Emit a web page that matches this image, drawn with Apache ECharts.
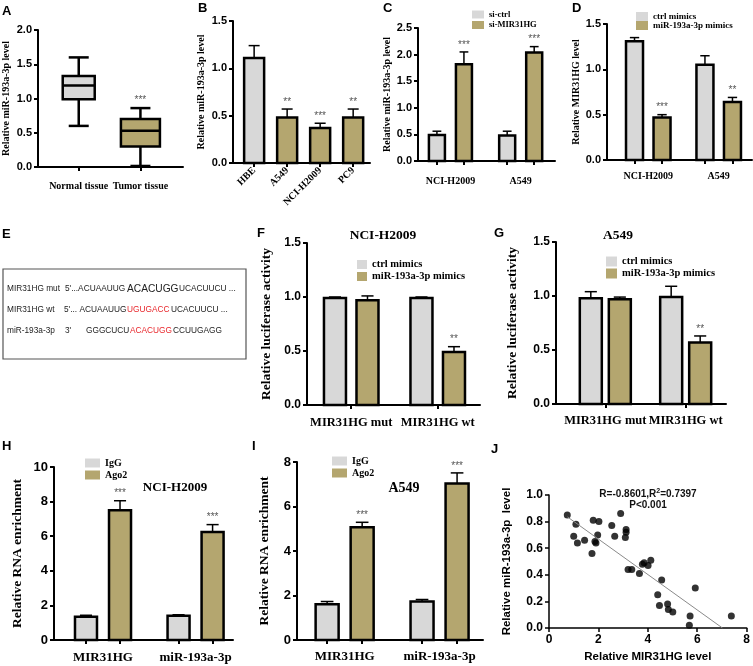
<!DOCTYPE html>
<html><head><meta charset="utf-8">
<script src="https://cdn.jsdelivr.net/npm/echarts@6/dist/echarts.min.js"></script>
<style>html,body{margin:0;padding:0;background:#fff}#c{width:753px;height:666px}</style>
</head><body><div id="c"></div>
<script>
// ---------------- DATA ----------------
// A: box plot [min, Q1, median, Q3, max]
const A_categories = ['Normal tissue', 'Tumor tissue'];
const A_box = [[0.60, 0.99, 1.19, 1.33, 1.60], [0.015, 0.30, 0.53, 0.70, 0.86]];
const A_stars = ['', '***'];
// B
const B_categories = ['HBE', 'A549', 'NCI-H2009', 'PC9'];
const B_mean = [1.11, 0.48, 0.37, 0.48];
const B_sd = [0.13, 0.09, 0.05, 0.09];
const B_stars = ['', '**', '***', '**'];
// C
const C_groups = ['NCI-H2009', 'A549'];
const C_names = ['si-ctrl', 'si-MIR31HG'];
const C_ctrl = [0.49, 0.48], C_ctrl_sd = [0.07, 0.08];
const C_si = [1.82, 2.04], C_si_sd = [0.23, 0.11];
const C_stars = ['***', '***'];
// D
const D_groups = ['NCI-H2009', 'A549'];
const D_names = ['ctrl mimics', 'miR-193a-3p mimics'];
const D_ctrl = [1.31, 1.05], D_ctrl_sd = [0.04, 0.10];
const D_mim = [0.47, 0.64], D_mim_sd = [0.03, 0.05];
const D_stars = ['***', '**'];
// F
const F_groups = ['MIR31HG mut', 'MIR31HG wt'];
const F_ctrl = [0.99, 0.99], F_ctrl_sd = [0.01, 0.01];
const F_mim = [0.97, 0.49], F_mim_sd = [0.04, 0.05];
const F_stars = ['', '**'];
// G
const G_groups = ['MIR31HG mut', 'MIR31HG wt'];
const G_ctrl = [0.98, 0.99], G_ctrl_sd = [0.06, 0.10];
const G_mim = [0.97, 0.57], G_mim_sd = [0.02, 0.06];
const G_stars = ['', '**'];
// H
const H_groups = ['MIR31HG', 'miR-193a-3p'];
const H_names = ['IgG', 'Ago2'];
const H_igg = [1.35, 1.40], H_igg_sd = [0.08, 0.06];
const H_ago = [7.50, 6.25], H_ago_sd = [0.55, 0.42];
const H_stars = ['***', '***'];
// I
const I_groups = ['MIR31HG', 'miR-193a-3p'];
const I_igg = [1.61, 1.73], I_igg_sd = [0.12, 0.09];
const I_ago = [5.07, 7.03], I_ago_sd = [0.22, 0.48];
const I_stars = ['***', '***'];
// J scatter
const J_x = [0.74,1.09,1.00,1.15,1.44,1.79,2.02,1.97,1.86,1.90,1.74,2.54,2.66,2.90,3.12,3.12,3.09,3.20,3.35,3.66,3.78,3.85,4.01,4.12,4.56,4.40,4.47,4.80,4.83,5.01,5.71,5.68,5.92,7.38];
const J_y = [0.85,0.78,0.69,0.64,0.66,0.81,0.80,0.70,0.65,0.64,0.56,0.77,0.69,0.86,0.74,0.72,0.68,0.44,0.44,0.41,0.48,0.49,0.47,0.51,0.36,0.25,0.17,0.18,0.14,0.12,0.09,0.02,0.30,0.09];
const J_fit = [[0.75, 0.835], [7.02, 0]];
const J_ticks = ['0', '2', '4', '6', '8'];

// ---------------- STYLE / LAYOUT ----------------
const GREY = '#d8d8d8', TAN = '#b4a66f';
const SANS = "'Liberation Sans', Arial, sans-serif";
const SERIF = "'Liberation Serif', 'Times New Roman', serif";
const LAY = {
  A: {grid: [37, 30, 146, 137], max: 2.35, start: 0.66, boxW: [32, 39]},
  B: {grid: [233, 21, 137, 142], max: 4.15, start: 0.64, barW: 20},
  C: {grid: [418, 28, 137, 133], max: 5.07, start: 0.7, gstep: 2.6, barW: 16},
  D: {grid: [607, 24, 145, 136], max: 5.27, start: 1.0, gstep: 2.56, barW: 17},
  F: {grid: [307, 243, 173, 162], max: 5.32, start: 0.86, gstep: 2.66, barW: 22},
  G: {grid: [556, 242, 170, 162], max: 5.86, start: 1.2, gstep: 2.77, barW: 22},
  H: {grid: [54, 467, 179, 173], max: 5.26, start: 0.94, gstep: 2.72, barW: 22},
  I: {grid: [297, 462, 186, 178], max: 5.31, start: 0.86, gstep: 2.71, barW: 23},
  J: {grid: [549, 495, 198, 133]}
};
const ORDER = ['A', 'B', 'C', 'D', 'F', 'G', 'H', 'I', 'J'];
const grids = ORDER.map(k => ({left: LAY[k].grid[0], top: LAY[k].grid[1], width: LAY[k].grid[2], height: LAY[k].grid[3]}));

function xAx(gi, max, ticks, labels, names, o) {
  return {type: 'value', gridIndex: gi, min: 0, max: max,
    axisLine: {show: true, onZero: false, lineStyle: {color: '#000', width: 2}},
    axisTick: {show: true, customValues: ticks, length: 4, lineStyle: {color: '#000', width: 2}},
    axisLabel: {customValues: labels, formatter: v => {const i = labels.findIndex(l => Math.abs(l - v) < 1e-3); return i >= 0 ? names[i] : '';},
      fontFamily: SERIF, fontWeight: 'bold', fontSize: o.fs, color: '#000', margin: o.margin, rotate: o.rotate || 0},
    splitLine: {show: false}};
}
function yAx(gi, max, interval, dec, fs, name, nfs, gap, nfam) {
  return {type: 'value', gridIndex: gi, min: 0, max: max, interval: interval,
    axisLine: {show: true, lineStyle: {color: '#000', width: 2}},
    axisTick: {show: true, length: 4, lineStyle: {color: '#000', width: 2}},
    axisLabel: {formatter: v => v.toFixed(dec), fontFamily: SANS, fontWeight: 'bold', fontSize: fs, color: '#000', margin: 6},
    splitLine: {show: false},
    name: name, nameLocation: 'middle', nameGap: gap, nameRotate: 90,
    nameTextStyle: {fontFamily: nfam || SERIF, fontWeight: 'bold', fontSize: nfs, color: '#000'}};
}
function barSeries(gi, name, color, xs, means, sds, stars, barW, colors) {
  return {type: 'custom', name: name, xAxisIndex: gi, yAxisIndex: gi, itemStyle: {color: color},
    data: means.map((m, i) => [xs[i], m, sds[i]]), encode: {x: 0, y: 1},
    renderItem: (params, api) => {
      const x = api.value(0), m = api.value(1), s = api.value(2);
      const p0 = api.coord([x, 0]), p1 = api.coord([x, m]), p2 = api.coord([x, m + s]);
      const cap = barW * 0.55;
      const fill = colors ? colors[params.dataIndex] : color;
      const st = stars ? stars[params.dataIndex] : '';
      const ch = [
        {type: 'line', shape: {x1: p1[0], y1: p1[1], x2: p2[0], y2: p2[1]}, style: {stroke: '#000', lineWidth: 1.5}},
        {type: 'line', shape: {x1: p2[0] - cap / 2, y1: p2[1], x2: p2[0] + cap / 2, y2: p2[1]}, style: {stroke: '#000', lineWidth: 1.5}},
        {type: 'rect', shape: {x: p1[0] - barW / 2, y: p1[1], width: barW, height: p0[1] - p1[1]}, style: {fill: fill, stroke: '#000', lineWidth: 2.5}}
      ];
      if (st) ch.push({type: 'text', x: p2[0], y: p2[1] - 2, style: {text: st, fontFamily: SANS, fontSize: 10, fill: '#555', align: 'center', verticalAlign: 'bottom'}});
      return {type: 'group', children: ch};
    }};
}
function grouped(key, gi, groups, defs, tickEach, fs, margin) {
  const L = LAY[key];
  const pos = (g, b) => L.start + g * L.gstep + b;
  const centers = groups.map((_, g) => pos(g, 0.5));
  const ticks = tickEach ? [].concat(...groups.map((_, g) => defs.map((_, b) => pos(g, b)))) : centers;
  const series = defs.map((d, b) => barSeries(gi, d.name, d.color, groups.map((_, g) => pos(g, b)), d.mean, d.sd, d.stars, L.barW));
  return {x: xAx(gi, L.max, ticks, centers, groups, {fs: fs, margin: margin}), series: series};
}

// ---------------- BUILD ----------------
const xAxes = [], yAxes = [], series = [];
// A
{
  const L = LAY.A; const xs = A_categories.map((_, i) => L.start + i);
  xAxes.push(xAx(0, L.max, xs, xs, A_categories, {fs: 10, margin: 14}));
  yAxes.push(yAx(0, 2.0, 0.5, 1, 11, 'Relative miR-193a-3p level', 10, 27));
  series.push({type: 'custom', name: 'A', xAxisIndex: 0, yAxisIndex: 0,
    data: A_box.map((b, i) => [xs[i]].concat(b)), encode: {x: 0, y: [1, 2, 3, 4, 5]},
    renderItem: (params, api) => {
      const i = params.dataIndex, x = api.value(0);
      const v = [1, 2, 3, 4, 5].map(k => api.coord([x, api.value(k)]));
      const w = L.boxW[i], cap = 20, cx = v[0][0];
      const ln = (x1, y1, x2, y2) => ({type: 'line', shape: {x1, y1, x2, y2}, style: {stroke: '#000', lineWidth: 2.5}});
      const ch = [
        ln(cx, v[4][1], cx, v[3][1]), ln(cx, v[1][1], cx, v[0][1]),
        ln(cx - cap / 2, v[4][1], cx + cap / 2, v[4][1]), ln(cx - cap / 2, v[0][1], cx + cap / 2, v[0][1]),
        {type: 'rect', shape: {x: cx - w / 2, y: v[3][1], width: w, height: v[1][1] - v[3][1]}, style: {fill: i === 0 ? GREY : TAN, stroke: '#000', lineWidth: 2.5}},
        ln(cx - w / 2, v[2][1], cx + w / 2, v[2][1])
      ];
      if (A_stars[i]) ch.push({type: 'text', x: cx, y: v[4][1] - 3, style: {text: A_stars[i], fontFamily: SANS, fontSize: 10, fill: '#555', align: 'center', verticalAlign: 'bottom'}});
      return {type: 'group', children: ch};
    }});
}
// B
{
  const L = LAY.B; const xs = B_categories.map((_, i) => L.start + i);
  xAxes.push(xAx(1, L.max, xs, xs, B_categories, {fs: 10, margin: 6, rotate: 45}));
  yAxes.push(yAx(1, 1.5, 0.5, 1, 11, 'Relative miR-193a-3p level', 10, 27));
  series.push(barSeries(1, 'B', TAN, xs, B_mean, B_sd, B_stars, L.barW, [GREY, TAN, TAN, TAN]));
}
// C
{
  const r = grouped('C', 2, C_groups, [
    {name: C_names[0], color: GREY, mean: C_ctrl, sd: C_ctrl_sd},
    {name: C_names[1], color: TAN, mean: C_si, sd: C_si_sd, stars: C_stars}], true, 10, 15);
  xAxes.push(r.x); series.push(...r.series);
  yAxes.push(yAx(2, 2.5, 0.5, 1, 11, 'Relative miR-193a-3p level', 10, 24));
}
// D
{
  const r = grouped('D', 3, D_groups, [
    {name: D_names[0], color: GREY, mean: D_ctrl, sd: D_ctrl_sd},
    {name: D_names[1], color: TAN, mean: D_mim, sd: D_mim_sd, stars: D_stars}], true, 10, 11);
  xAxes.push(r.x); series.push(...r.series);
  yAxes.push(yAx(3, 1.5, 0.5, 1, 11, 'Relative MIR31HG level', 10, 18));
}
// F
{
  const r = grouped('F', 4, F_groups, [
    {name: D_names[0], color: GREY, mean: F_ctrl, sd: F_ctrl_sd},
    {name: D_names[1], color: TAN, mean: F_mim, sd: F_mim_sd, stars: F_stars}], false, 12.5, 11);
  xAxes.push(r.x); series.push(...r.series);
  yAxes.push(yAx(4, 1.5, 0.5, 1, 12, 'Relative luciferase activity', 13.5, 33));
}
// G
{
  const r = grouped('G', 5, G_groups, [
    {name: D_names[0], color: GREY, mean: G_ctrl, sd: G_ctrl_sd},
    {name: D_names[1], color: TAN, mean: G_mim, sd: G_mim_sd, stars: G_stars}], false, 12.5, 10);
  xAxes.push(r.x); series.push(...r.series);
  yAxes.push(yAx(5, 1.5, 0.5, 1, 12, 'Relative luciferase activity', 13.5, 36));
}
// H
{
  const r = grouped('H', 6, H_groups, [
    {name: H_names[0], color: GREY, mean: H_igg, sd: H_igg_sd},
    {name: H_names[1], color: TAN, mean: H_ago, sd: H_ago_sd, stars: H_stars}], true, 13, 11);
  xAxes.push(r.x); series.push(...r.series);
  yAxes.push(yAx(6, 10, 2, 0, 13, 'Relative RNA enrichment', 13.5, 29));
}
// I
{
  const r = grouped('I', 7, I_groups, [
    {name: H_names[0], color: GREY, mean: I_igg, sd: I_igg_sd},
    {name: H_names[1], color: TAN, mean: I_ago, sd: I_ago_sd, stars: I_stars}], true, 13, 10);
  xAxes.push(r.x); series.push(...r.series);
  yAxes.push(yAx(7, 8, 2, 0, 13, 'Relative RNA enrichment', 13.5, 25));
}
// J
xAxes.push({type: 'value', gridIndex: 8, min: 0, max: 8, interval: 2,
  axisLine: {show: true, onZero: false, lineStyle: {color: '#000', width: 1.5}},
  axisTick: {show: true, length: 4, lineStyle: {color: '#000', width: 1.5}},
  axisLabel: {formatter: v => J_ticks[Math.round(v / 2)], fontFamily: SANS, fontWeight: 'bold', fontSize: 12, color: '#000', margin: 6},
  splitLine: {show: false},
  name: 'Relative MIR31HG level', nameLocation: 'middle', nameGap: 23,
  nameTextStyle: {fontFamily: SANS, fontWeight: 'bold', fontSize: 11.5, color: '#000'}});
yAxes.push(Object.assign(yAx(8, 1.0, 0.2, 1, 12, 'Relative miR-193a-3p  level', 11.5, 36, SANS), {
  axisLine: {show: true, lineStyle: {color: '#000', width: 1.5}},
  axisTick: {show: true, length: 4, lineStyle: {color: '#000', width: 1.5}}}));
series.push({type: 'line', xAxisIndex: 8, yAxisIndex: 8, data: J_fit, symbol: 'none', lineStyle: {color: '#8a8a8a', width: 1}, silent: true});
series.push({type: 'scatter', xAxisIndex: 8, yAxisIndex: 8, data: J_x.map((x, i) => [x, J_y[i]]), symbolSize: 7, itemStyle: {color: '#000'}});

const legendText = (fs) => ({fontFamily: SERIF, fontWeight: 'bold', fontSize: fs, color: '#000', lineHeight: fs});
const legends = [
  {left: 472, top: 10, data: C_names, itemWidth: 12, itemHeight: 8, itemGap: 1.5, textStyle: legendText(8.5)},
  {left: 636, top: 12, data: D_names, itemWidth: 12, itemHeight: 9, itemGap: 0, textStyle: legendText(9)},
  {left: 357, top: 259, data: D_names, itemWidth: 10, itemHeight: 9, itemGap: 1, textStyle: legendText(10.5)},
  {left: 606, top: 256, data: D_names, itemWidth: 11, itemHeight: 10, itemGap: 1, textStyle: legendText(10.5)},
  {left: 85, top: 458, data: H_names, itemWidth: 15, itemHeight: 9, itemGap: 2, textStyle: legendText(10)},
  {left: 332, top: 456, data: H_names, itemWidth: 15, itemHeight: 9, itemGap: 2, textStyle: legendText(10)}
].map(l => Object.assign({orient: 'vertical', icon: 'rect', selectedMode: false, padding: 0}, l));

// graphics: panel letters, titles, panel E, J annotation
const T = (x, y, text, font, align, fill) => ({type: 'text', x: x, y: y, silent: true,
  style: {text: text, font: font, fill: fill || '#000', align: align || 'left', verticalAlign: 'middle'}});
const LET = 'bold 13px ' + SANS;
const graphics = [
  T(2, 11, 'A', LET), T(198, 8, 'B', LET), T(383, 8, 'C', LET), T(572, 8, 'D', LET),
  T(2, 234, 'E', LET), T(257, 233, 'F', LET), T(494, 233, 'G', LET),
  T(2, 446, 'H', LET), T(252, 446, 'I', LET), T(491, 449, 'J', LET),
  T(383, 236, 'NCI-H2009', 'bold 13.5px ' + SERIF, 'center'),
  T(618, 236, 'A549', 'bold 13.5px ' + SERIF, 'center'),
  T(175, 488, 'NCI-H2009', 'bold 13px ' + SERIF, 'center'),
  T(404, 488, 'A549', 'bold 14px ' + SERIF, 'center'),
  {type: 'rect', shape: {x: 3, y: 269, width: 243, height: 90}, style: {fill: 'none', stroke: '#555', lineWidth: 1.2}, silent: true},
  {type: 'text', x: 648, y: 494, silent: true, style: {text: 'R=-0.8601,R{s|2}=0.7397', font: 'bold 10px ' + SANS, fill: '#111', align: 'center', verticalAlign: 'middle',
    rich: {s: {fontSize: 7, fontWeight: 'bold', fontFamily: SANS, verticalAlign: 'top', padding: [0, 0, 5, 0]}}}},
  T(648, 505, 'P<0.001', 'bold 10px ' + SANS, 'center', '#111')
];
const EF = '8.3px ' + SANS, EB = '10.2px ' + SANS, RED = '#e8262b', EC = '#222';
graphics.push(
  T(7, 289, 'MIR31HG mut', EF, 'left', EC), T(65, 289, "5'...ACUAAUUG", EF, 'left', EC), T(127, 289, 'ACACUGG', EB, 'left', EC), T(179, 289, 'UCACUUCU ...', EF, 'left', EC),
  T(7, 310, 'MIR31HG wt', EF, 'left', EC), T(64, 310, "5'... ACUAAUUG", EF, 'left', EC), T(127, 310, 'UGUGACC', EF, 'left', RED), T(171, 310, 'UCACUUCU ...', EF, 'left', EC),
  T(7, 331, 'miR-193a-3p', EF, 'left', EC), T(65, 331, "3'", EF, 'left', EC), T(86, 331, 'GGGCUCU', EF, 'left', EC), T(130, 331, 'ACACUGG', EF, 'left', RED), T(173, 331, 'CCUUGAGG', EF, 'left', EC)
);

const chart = echarts.init(document.getElementById('c'), null, {renderer: 'canvas'});
chart.setOption({animation: false, backgroundColor: '#fff', grid: grids, xAxis: xAxes, yAxis: yAxes, series: series, legend: legends, graphic: graphics, tooltip: {show: false}});
</script></body></html>
